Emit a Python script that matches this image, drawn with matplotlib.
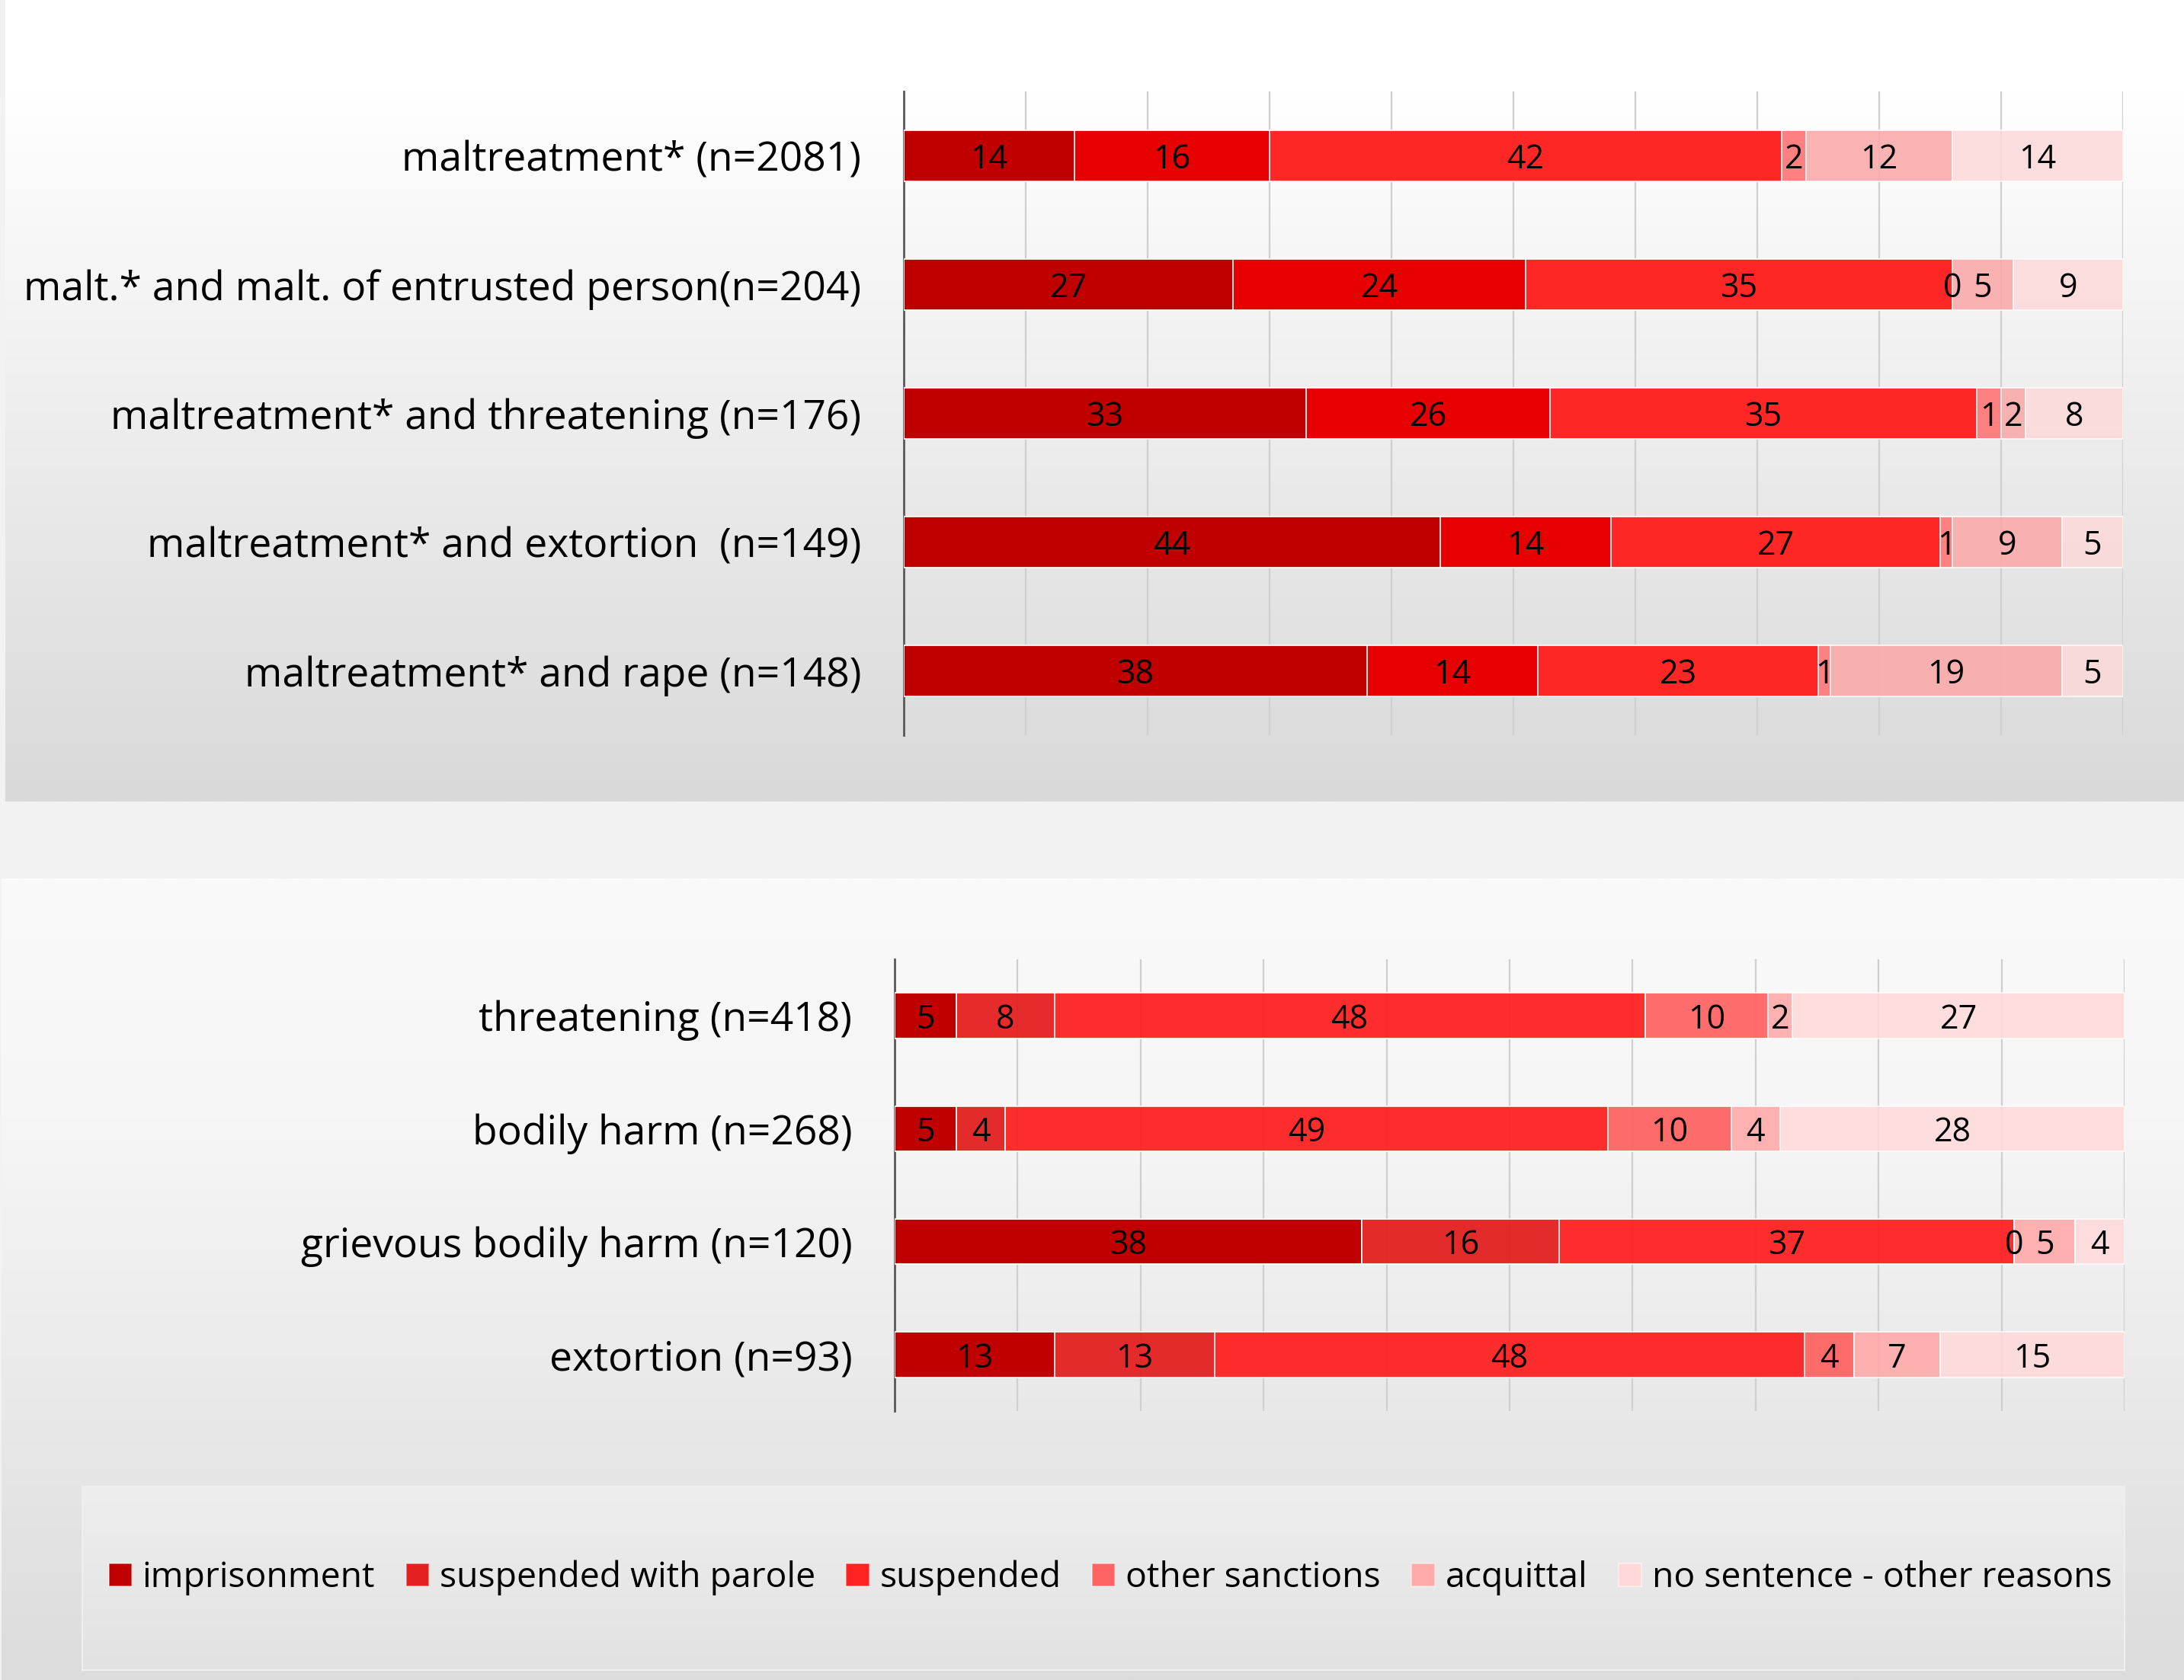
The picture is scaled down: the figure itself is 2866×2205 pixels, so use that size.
import numpy as np
import matplotlib
matplotlib.use('Agg')
import matplotlib.pyplot as plt
from matplotlib.patches import Rectangle

plt.rcParams['font.family'] = ['Open Sans', 'DejaVu Sans']

# sentence types (stack order)
sentences = ['imprisonment', 'suspended with parole', 'suspended',
             'other sanctions', 'acquittal', 'no sentence - other reasons']

# upper chart: maltreatment combinations, % of cases
top_categories = ['maltreatment* (n=2081)',
                  'malt.* and malt. of entrusted person(n=204)',
                  'maltreatment* and threatening (n=176)',
                  'maltreatment* and extortion  (n=149)',
                  'maltreatment* and rape (n=148)']
top_imprisonment = [14, 27, 33, 44, 38]
top_parole = [16, 24, 20, 14, 14]
top_suspended = [42, 35, 35, 27, 23]
top_other = [2, 0, 2, 1, 1]
top_acquittal = [12, 5, 2, 9, 19]
top_none = [14, 9, 8, 5, 5]
# the printed labels of the source do not match bar length in row 3
top_parole_shown = [16, 24, 26, 14, 14]
top_other_shown = [2, 0, 1, 1, 1]

# lower chart: single offences, % of cases
bottom_categories = ['threatening (n=418)', 'bodily harm (n=268)',
                     'grievous bodily harm (n=120)', 'extortion (n=93)']
bottom_imprisonment = [5, 5, 38, 13]
bottom_parole = [8, 4, 16, 13]
bottom_suspended = [48, 49, 37, 48]
bottom_other = [10, 10, 0, 4]
bottom_acquittal = [2, 4, 5, 7]
bottom_none = [27, 28, 4, 15]

top_colors = ['#C00000', '#E60000', '#FF2626', '#FF8080', '#FBAAAA', '#FDD9D9']
top_alpha = [1, 1, 1, 1, 0.9, 0.85]
bottom_colors = ['#C00000', '#E42020', '#FF2222', '#FF6464', '#FFAAAA', '#FFD9D9']
bottom_alpha = [1, 0.95, 0.95, 0.95, 0.9, 0.85]

W, H = 2866, 2205
fig = plt.figure(figsize=(W / 100, H / 100), dpi=100, facecolor='#f2f2f2')

# background panels (pixel coordinates)
bg = fig.add_axes([0, 0, 1, 1], zorder=-5)
bg.axis('off')


def gradient(ax, x0, x1, y0, y1, stops):
    pos = np.linspace(0, 1, 256)
    vals = np.interp(pos, [s[0] for s in stops], [s[1] for s in stops]) / 255.0
    img = np.repeat(vals[:, None, None], 3, axis=2)
    ax.imshow(img, extent=[x0, x1, y1, y0], aspect='auto', interpolation='bilinear', zorder=1)


gradient(bg, 7, W, 0, 1052, [(0, 255), (0.12, 255), (1, 217)])
gradient(bg, 2, W, 1153, H, [(0, 250), (0.3, 246), (1, 220)])
gradient(bg, 108, 2788, 1951, 2192, [(0, 238), (1, 226)])
bg.add_patch(Rectangle((108, 1951), 2680, 241, fill=False, edgecolor='#efefef', lw=1.5, zorder=2))
bg.set_xlim(0, W)
bg.set_ylim(H, 0)


def stacked(ax, cats, series, shown, colors, alphas):
    y = np.arange(len(cats))
    left = np.zeros(len(cats))
    for vals, txt, col, a in zip(series, shown, colors, alphas):
        vals = np.array(vals, dtype=float)
        ax.barh(y, vals, left=left, height=0.4, color=col, alpha=a,
                edgecolor=(1, 1, 1, 0.55), linewidth=1.2, zorder=3)
        for yi, l, v, t in zip(y, left, vals, txt):
            ax.text(l + v / 2, yi, str(t), ha='center', va='center_baseline',
                    fontsize=31, color='black', zorder=5)
        left += vals
    ax.set_xlim(0, 100)
    ax.set_ylim(len(cats) - 0.5, -0.5)
    ax.set_yticks(y)
    ax.set_yticklabels(cats, fontsize=38.4)
    ax.tick_params(axis='y', length=0, pad=40)
    ax.set_xticks(np.arange(10, 101, 10))
    ax.tick_params(axis='x', length=0, labelbottom=False)
    ax.grid(axis='x', color='#cfcfcf', linewidth=1.6, zorder=0)
    ax.set_axisbelow(True)
    ax.set_facecolor('none')
    for s in ['top', 'right', 'bottom']:
        ax.spines[s].set_visible(False)
    ax.spines['left'].set_color('#595959')
    ax.spines['left'].set_linewidth(2)


ax1 = fig.add_axes([1186 / W, 1 - 965 / H, 1600 / W, 845 / H])
stacked(ax1, top_categories,
        [top_imprisonment, top_parole, top_suspended, top_other, top_acquittal, top_none],
        [top_imprisonment, top_parole_shown, top_suspended, top_other_shown, top_acquittal, top_none],
        top_colors, top_alpha)

ax2 = fig.add_axes([1174 / W, 1 - 1852 / H, 1614 / W, 593 / H])
bottom_series = [bottom_imprisonment, bottom_parole, bottom_suspended,
                 bottom_other, bottom_acquittal, bottom_none]
stacked(ax2, bottom_categories, bottom_series, bottom_series, bottom_colors, bottom_alpha)

handles = [Rectangle((0, 0), 1, 1, facecolor=c, edgecolor=(1, 1, 1, 0.5), lw=1.2)
           for c in bottom_colors]
fig.legend(handles, sentences, loc='center', bbox_to_anchor=(1457 / W, 1 - 2071 / H),
           ncol=6, frameon=False, fontsize=33.3, handlelength=0.65, handleheight=0.65,
           handletextpad=0.3, columnspacing=0.88)

fig.savefig('out.png', dpi=100, facecolor=fig.get_facecolor())
